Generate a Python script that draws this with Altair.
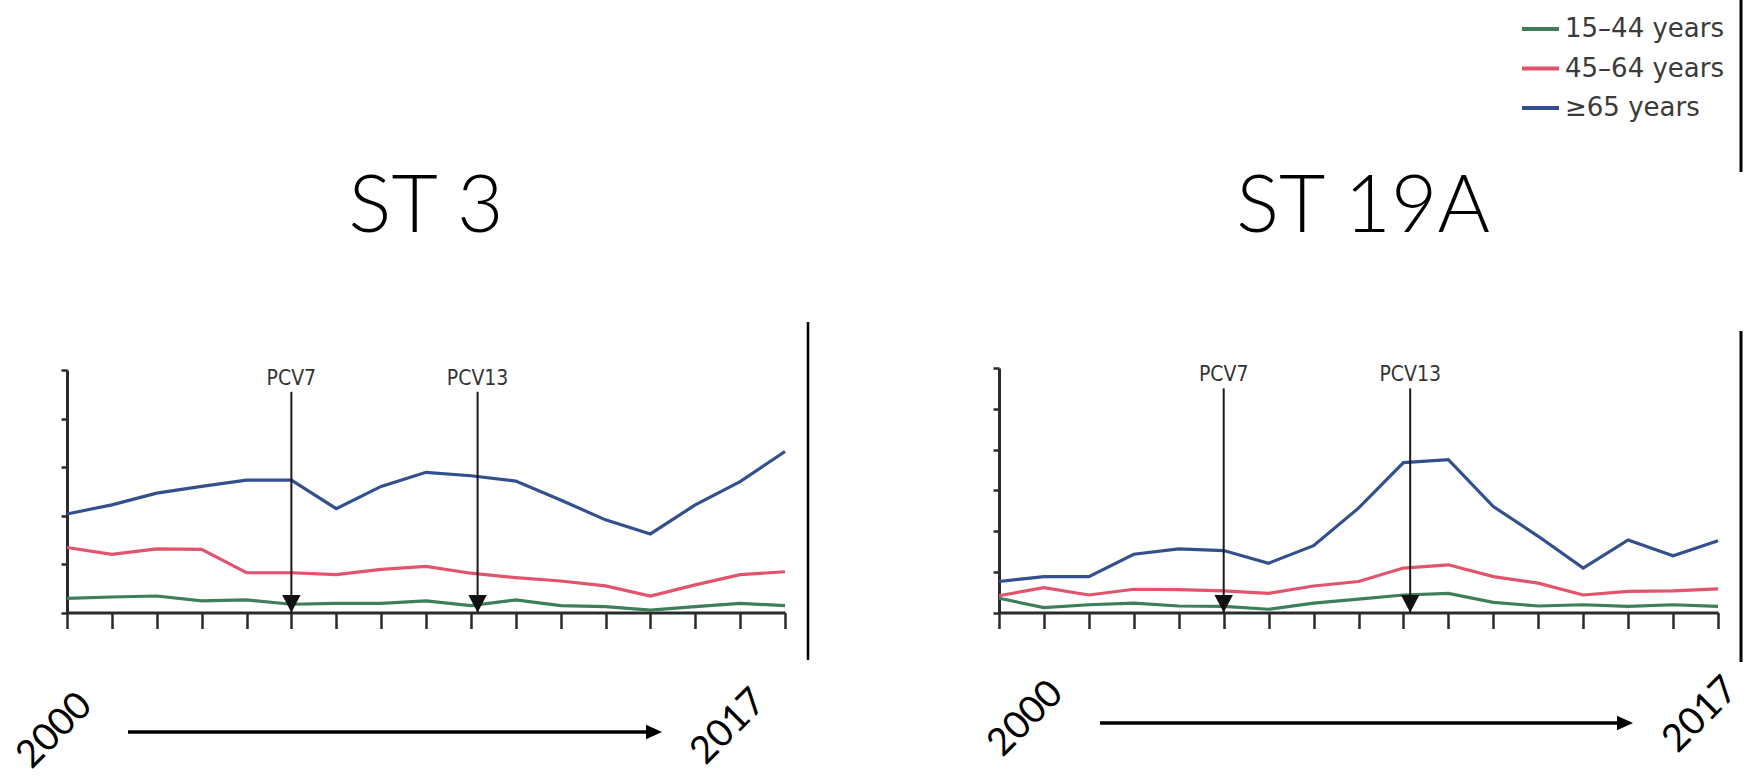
import altair as alt
import pandas as pd

# Seasons (end year) shown on both panels
years = list(range(2001, 2018))
groups = ["15–44 years", "45–64 years", "≥65 years"]
group_colors = ["#3e7f5a", "#e2536c", "#33508c"]

# ST 3 incidence by age group
st3_15_44 = [0.29, 0.32, 0.34, 0.24, 0.26, 0.17, 0.19, 0.19, 0.24, 0.14, 0.26, 0.14, 0.12, 0.05, 0.12, 0.19, 0.14]
st3_45_64 = [1.34, 1.20, 1.31, 1.30, 0.82, 0.82, 0.78, 0.89, 0.95, 0.81, 0.72, 0.65, 0.55, 0.34, 0.57, 0.78, 0.84]
st3_65up = [2.03, 2.22, 2.46, 2.60, 2.73, 2.73, 2.14, 2.60, 2.89, 2.82, 2.71, 2.32, 1.91, 1.62, 2.22, 2.70, 3.32]

# ST 19A incidence by age group
st19a_15_44 = [0.35, 0.12, 0.19, 0.23, 0.16, 0.15, 0.08, 0.23, 0.33, 0.43, 0.47, 0.25, 0.16, 0.19, 0.15, 0.19, 0.15]
st19a_45_64 = [0.41, 0.61, 0.43, 0.57, 0.56, 0.53, 0.47, 0.65, 0.76, 1.09, 1.17, 0.88, 0.72, 0.43, 0.52, 0.53, 0.58]
st19a_65up = [0.76, 0.88, 0.88, 1.43, 1.56, 1.52, 1.21, 1.64, 2.56, 3.68, 3.75, 2.60, 1.87, 1.09, 1.78, 1.39, 1.76]

# Vaccine introductions
vaccines = ["PCV7", "PCV13"]
vaccine_years = [2006, 2010.15]

panel_titles = ["ST 3", "ST 19A"]
span_labels = ["2000", "2017"]

W, H = 1746, 782


def long_table(series):
    rows = []
    for g, vals in zip(groups, series):
        for y, v in zip(years, vals):
            rows.append({"year": y, "value": v, "group": g})
    return pd.DataFrame(rows)


st3_df = long_table([st3_15_44, st3_45_64, st3_65up])
st19a_df = long_table([st19a_15_44, st19a_45_64, st19a_65up])

color_scale = alt.Scale(domain=groups, range=group_colors)
AXIS_COLOR = "#2b2b2b"
TEXT_COLOR = "#333333"
NARROW = "Liberation Sans Narrow, DejaVu Sans Condensed, Roboto Condensed, Arial Narrow, sans-serif"


def panel(df, x0, x1, y_top, y_max, arrow_top):
    """One incidence panel: three age-group lines, axes and PCV arrows."""
    xs = alt.Scale(domain=[years[0], years[-1]], range=[x0, x1], nice=False, zero=False)
    ys = alt.Scale(domain=[0, y_max], range=[612.5, y_top], nice=False, zero=False)
    x_axis = alt.Axis(orient="bottom", offset=-(H - 612.5), values=years, labels=False,
                      title=None, grid=False, tickSize=16, tickWidth=2.5, tickColor=AXIS_COLOR,
                      domainColor=AXIS_COLOR, domainWidth=3)
    y_axis = alt.Axis(orient="left", offset=-x0, values=list(range(0, y_max + 1)), labels=False,
                      title=None, grid=False, tickSize=6, tickWidth=2.5, tickColor=AXIS_COLOR,
                      domainColor=AXIS_COLOR, domainWidth=3)

    lines = alt.Chart(df).mark_line(strokeWidth=3.2).encode(
        x=alt.X("year:Q", scale=xs, axis=x_axis),
        y=alt.Y("value:Q", scale=ys, axis=y_axis),
        color=alt.Color("group:N", scale=color_scale, legend=None),
    )

    vac = pd.DataFrame({"vaccine": vaccines, "year": vaccine_years,
                        "top": [arrow_top] * len(vaccines), "base": [0] * len(vaccines)})
    shaft = alt.Chart(vac).mark_rule(strokeWidth=2, color="#1a1a1a").encode(
        x=alt.X("year:Q", scale=xs, axis=None),
        y=alt.Y("top:Q", scale=ys, axis=None),
        y2="base:Q",
    )
    head = alt.Chart(vac).mark_point(shape="M-1,-1.9L1,-1.9L0,0Z", filled=True, opacity=1,
                                     size=340, color="#111111").encode(
        x=alt.X("year:Q", scale=xs, axis=None),
        y=alt.Y("base:Q", scale=ys, axis=None),
    )
    label = alt.Chart(vac).mark_text(baseline="alphabetic", align="center", dy=-7,
                                     fontSize=21, font=NARROW, color=TEXT_COLOR).encode(
        x=alt.X("year:Q", scale=xs, axis=None),
        y=alt.Y("top:Q", scale=ys, axis=None),
        text="vaccine:N",
    )
    return [lines, shaft, head, label]


def text_at(txt, x, y, size, font, angle=0, color="#000000", align="center",
            baseline="middle", weight=400):
    return alt.Chart(pd.DataFrame({"t": [txt]})).mark_text(
        fontSize=size, font=font, angle=angle, color=color, align=align, baseline=baseline,
        fontWeight=weight
    ).encode(text="t:N", x=alt.value(x), y=alt.value(y))


def vline(x, y0, y1, width=3, color="#000000"):
    return alt.Chart(pd.DataFrame({"k": [0]})).mark_rule(strokeWidth=width, color=color).encode(
        x=alt.value(x), y=alt.value(y0), y2=alt.value(y1))


def time_arrow(x0, x1, y):
    shaft = alt.Chart(pd.DataFrame({"k": [0]})).mark_rule(strokeWidth=3.5, color="#000000").encode(
        x=alt.value(x0), x2=alt.value(x1 - 8), y=alt.value(y))
    tip = alt.Chart(pd.DataFrame({"k": [0]})).mark_point(
        shape="M0,0L-2,-0.9L-2,0.9Z", filled=True, opacity=1, size=256, color="#000000"
    ).encode(x=alt.value(x1), y=alt.value(y))
    return [shaft, tip]


layers = []
layers += panel(st3_df, 67, 785, 370, 5, 4.55)
layers += panel(st19a_df, 999, 1718, 368, 6, 5.5)

# Panel titles
layers.append(text_at(panel_titles[0], 426, 232, 80, "Lato", baseline="alphabetic", weight=300))
layers.append(text_at(panel_titles[1], 1363, 232, 80, "Lato", baseline="alphabetic", weight=300))

# Time span annotations below each panel
layers.append(text_at(span_labels[0], 55, 731, 38, "Lato", angle=315))
layers.append(text_at(span_labels[1], 729, 727, 38, "Lato", angle=315))
layers.append(text_at(span_labels[0], 1026, 719, 38, "Lato", angle=315))
layers.append(text_at(span_labels[1], 1701, 715, 38, "Lato", angle=315))
layers += time_arrow(128, 662, 732)
layers += time_arrow(1100, 1633, 723)

# Panel separators
layers.append(vline(808, 322, 660, 2.5))
layers.append(vline(1741, 331, 662, 3))
layers.append(vline(1741, 0, 172, 3))

# Age-group key
key_df = pd.DataFrame({"group": groups})
key_y = alt.Scale(type="point", domain=groups, range=[29, 108], padding=0)
layers.append(alt.Chart(key_df).mark_rule(strokeWidth=4).encode(
    x=alt.value(1522), x2=alt.value(1559),
    y=alt.Y("group:N", scale=key_y, axis=None),
    color=alt.Color("group:N", scale=color_scale, legend=None),
))
layers.append(alt.Chart(key_df).mark_text(align="left", baseline="middle", fontSize=26,
                                          font="DejaVu Sans", color="#3a3a3a").encode(
    x=alt.value(1565),
    y=alt.Y("group:N", scale=key_y, axis=None),
    text="group:N",
))

chart = (
    alt.layer(*layers)
    .resolve_scale(x="independent", y="independent")
    .resolve_axis(x="independent", y="independent")
    .properties(width=W, height=H, padding=0, autosize=alt.AutoSizeParams(type="none"),
                background="white")
    .configure_view(stroke=None)
)

chart.save("out.html", embed_options={"renderer": "svg", "actions": False})
